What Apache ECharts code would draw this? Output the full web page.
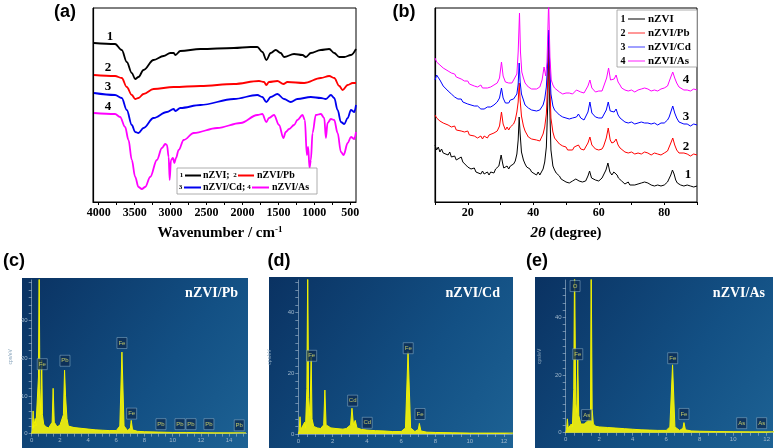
<!DOCTYPE html>
<html><head><meta charset="utf-8">
<script src="https://cdn.jsdelivr.net/npm/echarts@6/dist/echarts.min.js"></script>
<style>html,body{margin:0;padding:0;background:#fff}#c{width:778px;height:448px}</style>
</head><body><div id="c"></div>
<script>
// ---------- (a) FTIR : [wavenumber, transmittance (a.u.)] ----------
const ftir1 = [[4066,159],[3773,158],[3680,152],[3610,140],[3540,129],[3493,123],[3447,125],[3377,132],[3237,142],[3098,146],[3004,149],[2958,149],[2934,147],[2865,151],[2585,153],[2120,154],[1887,155],[1793,155],[1723,150],[1667,142],[1607,149],[1537,152],[1468,149],[1421,145],[1282,148],[1165,147],[1118,145],[1048,149],[909,152],[793,153],[723,149],[653,145],[583,145],[490,147],[420,153]];
const ftir2 = [[4066,127],[3773,126],[3680,124],[3610,115],[3540,107],[3493,103],[3447,104],[3377,108],[3237,113],[2958,115],[2585,116],[2120,118],[1770,121],[1700,120],[1668,117],[1631,120],[1514,121],[1430,118],[1374,120],[1142,119],[909,124],[793,126],[723,124],[653,116],[606,112],[536,117],[466,119],[420,119]];
const ftir3 = [[4066,109],[3773,107],[3680,104],[3610,92],[3540,77],[3493,70],[3447,69],[3377,74],[3237,84],[3051,90],[2958,93],[2934,91],[2865,94],[2585,97],[2120,103],[1793,107],[1724,105],[1668,100],[1607,105],[1514,108],[1421,103],[1328,100],[1235,103],[1048,105],[909,104],[839,103],[769,107],[723,104],[676,92],[630,80],[583,78],[536,84],[490,92],[443,90],[420,97]];
const ftir4 = [[4066,89],[3773,88],[3703,85],[3633,75],[3586,62],[3540,42],[3493,25],[3447,15],[3400,13],[3354,15],[3284,25],[3191,42],[3121,54],[3074,58],[3051,57],[3027,45],[3013,22],[2995,42],[2967,44],[2948,39],[2925,44],[2888,52],[2818,62],[2678,69],[2352,74],[2026,79],[1793,87],[1724,88],[1668,80],[1631,84],[1561,87],[1491,77],[1430,64],[1398,70],[1351,73],[1282,77],[1235,82],[1165,87],[1132,82],[1104,47],[1086,55],[1067,34],[1048,42],[1025,69],[979,87],[909,88],[862,84],[839,64],[816,79],[769,83],[723,82],[676,69],[630,50],[592,47],[536,59],[490,65],[443,63],[420,70]];
const ftirTicks = [4000,3500,3000,2500,2000,1500,1000,500];
const ftirMinor = [4000,3750,3500,3250,3000,2750,2500,2250,2000,1750,1500,1250,1000,750,500];

// ---------- (b) XRD : [2theta, intensity (a.u.)] ----------
const xrd1 = [[10,57],[10.5,52],[11,55],[11.5,50],[12,53],[12.5,49],[13,51],[14,47],[14.5,50],[15,45],[16,46],[16.5,42],[17,44],[18,45],[18.5,40],[19,40],[20,35],[20.5,37],[21,33],[22,34],[22.5,30],[23,31],[24,28],[24.5,31],[25,28],[26,30],[26.5,27],[27,30],[28,29],[28.5,33],[29,31],[29.5,36],[30.2,47],[30.7,38],[31,34],[32,36],[32.5,33],[33,36],[34,38],[34.5,41],[35,48],[35.4,62],[35.7,85],[36,68],[36.4,50],[37,42],[37.5,38],[38,35],[39,33],[39.5,30],[40,31],[41,27],[41.5,30],[42,27],[43,33],[43.5,40],[44,55],[44.4,95],[44.7,152],[45,100],[45.4,52],[46,36],[46.5,32],[47,29],[48,26],[48.5,23],[49,24],[50,20],[50.5,22],[51,19],[52,21],[52.5,19],[53,23],[53.5,24],[54,21],[55,20],[55.5,22],[56,21],[56.7,26],[57.2,31],[57.8,24],[58,25],[59,22],[59.5,23],[60,21],[60.5,23],[61,24],[61.5,26],[62.2,32],[62.8,39],[63.4,30],[64,27],[64.6,30],[65,32],[65.6,27],[66,24],[67,21],[67.5,20],[68,18],[69,20],[69.5,17],[70,19],[71,17],[71.5,19],[72,18],[73,19],[74,20],[74.5,22],[75,19],[76,17],[76.5,18],[77,16],[78,17],[79,16],[79.5,18],[80,17],[81,20],[81.5,22],[82,27],[82.5,32],[83,28],[83.5,22],[84,19],[85,17],[85.5,18],[86,16],[87,17],[87.5,15],[88,16],[89,15],[89.5,17],[90,16]];
const xrd2 = [[10,87],[10.5,84],[11,86],[11.5,81],[12,83],[12.5,79],[13,81],[14,77],[14.5,79],[15,75],[16,76],[16.5,72],[17,74],[18,71],[18.5,73],[19,70],[20,71],[20.5,67],[21,69],[22,66],[22.5,68],[23,64],[24,66],[24.5,63],[25,66],[26,64],[26.5,67],[27,66],[28,69],[28.5,67],[29,71],[29.7,76],[30.3,90],[30.8,78],[31.5,72],[32,75],[32.5,72],[33,75],[34,78],[34.5,82],[35,90],[35.4,100],[35.7,119],[36,102],[36.4,86],[37,76],[37.5,71],[38,68],[38.5,65],[39,67],[39.5,63],[40,65],[41,62],[41.5,64],[42,61],[43,68],[43.5,75],[44,88],[44.4,120],[44.7,162],[45,125],[45.4,84],[46,70],[46.5,64],[47,62],[48,58],[48.5,60],[49,56],[50,55],[50.5,52],[51,54],[52,52],[52.5,55],[53,54],[53.8,57],[54.5,53],[55.5,52],[56,55],[56.7,59],[57.3,65],[57.9,57],[58.5,55],[59,53],[60,52],[60.5,54],[61,53],[61.5,56],[62.3,64],[62.9,74],[63.5,62],[64,59],[64.7,60],[65.3,63],[65.9,57],[66.5,54],[67,52],[68,50],[68.5,52],[69,49],[70,50],[71,48],[71.5,50],[72,49],[73,48],[74,50],[74.5,48],[75,49],[76,47],[77,49],[78,48],[79,47],[79.5,49],[80,49],[81,51],[81.5,53],[82,59],[82.6,64],[83.2,57],[83.8,52],[84.5,49],[85,48],[86,49],[86.5,47],[87,48],[88,46],[89,48],[89.5,46],[90,47]];
const xrd3 = [[10,122],[10.5,127],[11,126],[11.5,122],[12,119],[12.5,116],[13,114],[14,111],[14.5,109],[15,108],[16,105],[16.5,107],[17,103],[18,103],[18.5,100],[19,101],[20,98],[20.5,100],[21,97],[22,96],[22.5,94],[23,96],[24,93],[24.5,95],[25,93],[26,95],[26.5,93],[27,95],[28,97],[28.5,96],[29,100],[29.7,104],[30.3,114],[30.8,104],[31.5,99],[32,101],[32.5,99],[33,102],[33.5,100],[34,103],[34.5,105],[35,108],[35.4,118],[35.7,139],[36,120],[36.4,108],[37,102],[37.5,97],[38,96],[38.5,94],[39,95],[39.5,92],[40,93],[41,91],[41.5,93],[42,92],[43,97],[43.5,103],[44,115],[44.4,140],[44.7,172],[45,140],[45.4,108],[46,96],[46.5,92],[47,90],[48,87],[48.5,88],[49,85],[50,84],[50.5,86],[51,83],[52,84],[52.5,82],[53.2,85],[53.8,88],[54.5,84],[55.5,82],[56,84],[56.7,90],[57.3,100],[57.9,89],[58.5,87],[59,85],[60,84],[60.5,86],[61,84],[61.5,86],[62.3,92],[62.9,100],[63.5,91],[64,89],[64.7,90],[65.3,93],[65.9,87],[66.5,84],[67,82],[68,80],[68.5,82],[69,79],[70,80],[71,78],[71.5,80],[72,79],[73,80],[74,79],[74.5,81],[75,79],[76,78],[77,79],[78,77],[79,79],[79.5,78],[80,79],[81,82],[81.5,85],[82,90],[82.6,96],[83.2,89],[83.8,84],[84.5,80],[85,79],[86,78],[86.5,77],[87,78],[88,76],[89,78],[89.5,76],[90,77]];
const xrd4 = [[10,144],[10.5,140],[11,141],[11.5,137],[12,138],[12.5,134],[13,135],[14,131],[14.5,133],[15,129],[16,128],[16.5,125],[17,126],[18,123],[18.5,124],[19,121],[20,121],[20.5,118],[21,119],[22,116],[22.5,118],[23,115],[24,117],[24.5,114],[25,116],[26,114],[26.5,116],[27,115],[28,117],[28.5,116],[29,119],[29.7,124],[30.3,140],[30.8,126],[31.5,120],[32,122],[32.5,119],[33,121],[33.5,119],[34,122],[34.5,124],[35,128],[35.4,150],[35.8,189],[36.1,150],[36.5,130],[37,124],[37.5,119],[38,117],[38.5,115],[39,116],[39.5,113],[40,114],[41,113],[41.5,115],[42,115],[42.7,122],[43.3,135],[43.8,126],[44.2,140],[44.7,200],[45.1,145],[45.5,122],[46,117],[46.5,114],[47,112],[48,110],[48.5,111],[49,108],[50,109],[50.5,107],[51,109],[52,108],[52.5,110],[53.2,112],[53.8,114],[54.5,110],[55.5,109],[56,111],[56.7,116],[57.3,122],[57.9,114],[58.5,112],[59,110],[60,111],[60.5,109],[61,111],[61.5,113],[62.4,124],[63,134],[63.6,122],[64,120],[64.7,123],[65.3,127],[65.9,120],[66.5,117],[67,114],[68,112],[68.5,113],[69,111],[70,112],[71,110],[71.5,112],[72,112],[73,113],[74,114],[74.5,116],[75,113],[76,111],[77,112],[78,111],[79,113],[79.5,112],[80,114],[81,116],[81.5,118],[82,125],[82.6,130],[83.2,124],[83.8,119],[84.5,115],[85,113],[86,112],[86.5,111],[87,112],[88,111],[89,113],[89.5,111],[90,112]];
const xrdLabels = [20,40,60,80];
const xrdTicks = [10,20,30,40,50,60,70,80,90];

// ---------- (c)(d)(e) EDS : [keV, cps/eV] ----------
const edsPb = [[0,0],[0.05,1],[0.1,6],[0.13,1.5],[0.2,2],[0.25,4],[0.3,2],[0.4,2.5],[0.48,15],[0.53,45],[0.58,12],[0.65,5],[0.71,19.5],[0.76,5],[0.85,2.5],[1.0,1.8],[1.2,1.5],[1.45,3],[1.52,12],[1.6,3],[1.8,1.8],[2.0,2.2],[2.1,2],[2.25,5],[2.33,16.8],[2.4,10],[2.5,4],[2.6,2],[2.8,1.8],[3.0,1.6],[3.5,1.4],[4.0,1.2],[4.5,1.0],[5.0,0.9],[5.5,0.8],[6.0,0.8],[6.25,2],[6.4,21.6],[6.55,2],[6.8,0.8],[7.0,1.5],[7.06,3.5],[7.15,1],[7.5,0.6],[8,0.5],[9,0.4],[10,0.3],[11,0.3],[12,0.25],[13,0.2],[14,0.2],[15.2,0.2]];
const edsCd = [[0,0],[0.05,1],[0.1,5.7],[0.15,1.5],[0.25,2],[0.37,3.9],[0.42,2],[0.5,15],[0.55,55],[0.6,12],[0.68,6],[0.75,25.5],[0.8,5],[0.9,2.5],[1.1,2],[1.3,1.8],[1.48,3],[1.55,14.5],[1.62,3],[1.9,2],[2.2,1.8],[2.6,1.6],[2.8,1.8],[3.05,3],[3.13,8.5],[3.22,3],[3.32,4.5],[3.42,2],[3.7,1.5],[4,1.3],[4.5,1.1],[5,1],[5.5,0.8],[6,0.8],[6.25,2],[6.4,27.2],[6.55,2],[6.8,0.8],[7.0,1.5],[7.06,3.5],[7.15,1],[7.5,0.6],[8,0.5],[9,0.4],[10,0.3],[11,0.3],[12,0.3],[12.6,0.3]];
const edsAs = [[0,0],[0.05,1],[0.1,4.8],[0.15,1.5],[0.25,2],[0.33,3],[0.4,2],[0.48,15],[0.53,60],[0.6,10],[0.66,7],[0.72,25.2],[0.78,6],[0.9,3],[1.0,2.5],[1.1,3],[1.2,2.5],[1.3,4],[1.4,5],[1.48,8],[1.52,60],[1.58,8],[1.65,3],[1.8,2.2],[2,2],[2.5,1.8],[3,1.6],[3.5,1.4],[4,1.2],[4.5,1],[5,0.9],[5.5,0.8],[6,0.8],[6.22,2],[6.38,23.5],[6.52,2],[6.8,0.8],[7.0,1.5],[7.06,3.5],[7.15,1],[7.5,0.6],[8,0.5],[9,0.4],[10,0.35],[11,0.3],[12,0.3],[12.45,0.3]];
// element tags [keV, cps, label]
const tagsPb = [[0.75,18.4,'Fe'],[2.36,19.3,'Pb'],[6.40,24.0,'Fe'],[7.09,5.3,'Fe'],[9.17,2.5,'Pb'],[10.52,2.5,'Pb'],[11.30,2.5,'Pb'],[12.57,2.5,'Pb'],[14.72,2.2,'Pb']];
const tagsCd = [[0.78,25.8,'Fe'],[3.17,11.0,'Cd'],[4.02,3.7,'Cd'],[6.41,28.3,'Fe'],[7.10,6.6,'Fe']];
const tagsAs = [[0.56,50.8,'O'],[0.72,27.2,'Fe'],[1.25,6.1,'As'],[6.39,25.8,'Fe'],[7.06,6.5,'Fe'],[10.51,3.3,'As'],[11.70,3.3,'As']];
const edsXLabels = [0,2,4,6,8,10,12,14];
const edsYLabelsC = [0,10,20,30];
const edsYLabelsDE = [0,20,40];

function steps(a,b,s){const r=[];for(let v=a;v<=b+1e-9;v+=s)r.push(+v.toFixed(2));return r;}

const SERIF = '"Liberation Serif","Times New Roman",serif';
const SANS = '"Liberation Sans",Arial,sans-serif';

const chart = echarts.init(document.getElementById('c'));

const grids = [
  {left:93, top:8, width:263, height:194, show:true, borderColor:'#000', borderWidth:1},
  {left:435, top:8, width:262, height:194, show:true, borderColor:'#000', borderWidth:1},
  {left:31.7, top:280, width:215, height:153.6},
  {left:298.3, top:280, width:214, height:154},
  {left:565.7, top:280, width:207, height:152.7}
].map(g=>Object.assign({outerBoundsMode:'none', containLabel:false}, g));

const plain = v => String(v);
const blackAxisLbl = {fontFamily:SERIF, fontWeight:'bold', fontSize:12, color:'#000', margin:5, formatter:plain};
const edsAxisLine = {show:true, lineStyle:{color:'#aac0d4', width:0.6}};
const edsTick = {show:true, length:3, lineStyle:{color:'#aac0d4', width:0.6}};
const edsLbl = {fontFamily:SANS, fontSize:6, color:'#9fb7cb', margin:4, formatter:plain};

const xAxes = [
  {gridIndex:0, type:'value', min:420, max:4080, inverse:true,
   axisLine:{show:true,lineStyle:{color:'#000',width:1.2}},
   axisTick:{show:true, length:3, customValues:ftirMinor, lineStyle:{color:'#000'}},
   axisLabel:Object.assign({customValues:ftirTicks}, blackAxisLbl),
   splitLine:{show:false}},
  {gridIndex:1, type:'value', min:10, max:90,
   axisLine:{show:true,lineStyle:{color:'#000',width:1.2}},
   axisTick:{show:true, length:3, customValues:xrdTicks, lineStyle:{color:'#000'}},
   axisLabel:Object.assign({customValues:xrdLabels}, blackAxisLbl),
   splitLine:{show:false}},
  {gridIndex:2, type:'value', min:0, max:15.25, axisLine:edsAxisLine,
   axisTick:Object.assign({customValues:steps(0,15,0.5)}, edsTick),
   axisLabel:Object.assign({customValues:edsXLabels}, edsLbl), splitLine:{show:false}},
  {gridIndex:3, type:'value', min:0, max:12.48, axisLine:edsAxisLine,
   axisTick:Object.assign({customValues:steps(0,12,0.5)}, edsTick),
   axisLabel:Object.assign({customValues:edsXLabels.filter(v=>v<=12)}, edsLbl), splitLine:{show:false}},
  {gridIndex:4, type:'value', min:0, max:12.36, axisLine:edsAxisLine,
   axisTick:Object.assign({customValues:steps(0,12,0.5)}, edsTick),
   axisLabel:Object.assign({customValues:edsXLabels.filter(v=>v<=12)}, edsLbl), splitLine:{show:false}}
];
const edsName = {name:'cps/eV', nameLocation:'middle', nameRotate:90, nameTextStyle:{fontFamily:SANS, fontSize:5, color:'#8aa6bd'}};
const yAxes = [
  {gridIndex:0, type:'value', min:0, max:194, axisLine:{show:true,lineStyle:{color:'#000',width:1.2}}, axisTick:{show:false}, axisLabel:{show:false}, splitLine:{show:false}},
  {gridIndex:1, type:'value', min:0, max:194, axisLine:{show:true,lineStyle:{color:'#000',width:1.2}}, axisTick:{show:false}, axisLabel:{show:false}, splitLine:{show:false}},
  Object.assign({gridIndex:2, type:'value', min:0, max:40.7, nameGap:19, axisLine:edsAxisLine,
   axisTick:Object.assign({customValues:steps(0,40,2)}, edsTick),
   axisLabel:Object.assign({customValues:edsYLabelsC}, edsLbl), splitLine:{show:false}}, edsName),
  Object.assign({gridIndex:3, type:'value', min:0, max:50.8, nameGap:26, axisLine:edsAxisLine,
   axisTick:Object.assign({customValues:steps(0,50,2.5)}, edsTick),
   axisLabel:Object.assign({customValues:edsYLabelsDE}, edsLbl), splitLine:{show:false}}, edsName),
  Object.assign({gridIndex:4, type:'value', min:0, max:52.9, nameGap:24, axisLine:edsAxisLine,
   axisTick:Object.assign({customValues:steps(0,50,2.5)}, edsTick),
   axisLabel:Object.assign({customValues:edsYLabelsDE}, edsLbl), splitLine:{show:false}}, edsName)
];

function ftirSeries(data,color){return {type:'line', xAxisIndex:0, yAxisIndex:0, data, showSymbol:false, smooth:0.35, smoothMonotone:'x', lineStyle:{color, width:1.8}, itemStyle:{color}, silent:true, z:3};}
function xrdSeries(data,color){return {type:'line', xAxisIndex:1, yAxisIndex:1, data, showSymbol:false, lineStyle:{color, width:1}, itemStyle:{color}, silent:true, z:3};}
function edsSeries(i,data){return {type:'line', xAxisIndex:i, yAxisIndex:i, data, showSymbol:false, lineStyle:{color:'#f2f200', width:1}, areaStyle:{color:'#eeee10', opacity:0.95}, silent:true, z:3};}
function tagSeries(i,tags){return {type:'scatter', xAxisIndex:i, yAxisIndex:i, data:tags.map(t=>({value:[t[0],t[1]], name:t[2]})), symbol:'rect', symbolSize:[10,11],
  itemStyle:{color:'#0c2c52', borderColor:'#9cc0d4', borderWidth:0.6}, label:{show:true, position:'inside', formatter:p=>p.name, fontFamily:SANS, fontSize:6, color:'#e4e46a'}, silent:true, z:5};}

const series = [
  ftirSeries(ftir1,'#000000'), ftirSeries(ftir2,'#ff0000'), ftirSeries(ftir3,'#0000ee'), ftirSeries(ftir4,'#ff00ff'),
  xrdSeries(xrd1,'#000000'), xrdSeries(xrd2,'#ff0000'), xrdSeries(xrd3,'#0000ff'), xrdSeries(xrd4,'#ff00ff'),
  edsSeries(2,edsPb), edsSeries(3,edsCd), edsSeries(4,edsAs),
  tagSeries(2,tagsPb), tagSeries(3,tagsCd), tagSeries(4,tagsAs)
];

function txt(x,y,text,font,fill,align,extra){return Object.assign({type:'text', x, y, z:50, style:{text, font, fill:fill||'#000', align:align||'center', verticalAlign:'middle'}}, extra||{});}
function ln(x1,y1,x2,y2,stroke,w){return {type:'line', z:50, shape:{x1,y1,x2,y2}, style:{stroke, lineWidth:w}};}
function panelBg(x,y,w,h){return {type:'rect', z:-10, shape:{x,y,width:w,height:h}, style:{fill:new echarts.graphic.LinearGradient(0,0,1,1,[{offset:0,color:'#0a3262'},{offset:0.6,color:'#135084'},{offset:1,color:'#1d6294'}])}};}

const LBL = 'bold 18px '+SANS;
const NUM = 'bold 13px '+SERIF;
const LEG = 'bold 10px '+SERIF;
const LEGS = 'bold 7px '+SERIF;
const LEGB = 'bold 11px '+SERIF;
const graphics = [
  panelBg(22,278,226,170), panelBg(269,277,244,171), panelBg(535,277,238,171),
  txt(65,12,'(a)',LBL), txt(404,12,'(b)',LBL), txt(14,261,'(c)',LBL), txt(279,261,'(d)',LBL), txt(537,261,'(e)',LBL),
  txt(220,233,'',null,'#000','center',{style:{text:'{a|Wavenumber / cm}{s|-1}', align:'center', verticalAlign:'middle', fill:'#000',
    rich:{a:{font:'bold 15px '+SERIF, fill:'#000'}, s:{font:'bold 9px '+SERIF, fill:'#000', verticalAlign:'top'}}}}),
  txt(566,233,'',null,'#000','center',{style:{text:'{i|2θ}{n| (degree)}', align:'center', verticalAlign:'middle', fill:'#000',
    rich:{i:{font:'italic bold 15px '+SERIF, fill:'#000'}, n:{font:'bold 15px '+SERIF, fill:'#000'}}}}),
  // curve numbers (a)
  txt(110,37,'1',NUM), txt(108,68,'2',NUM), txt(108,87,'3',NUM), txt(108,107,'4',NUM),
  // curve numbers (b)
  txt(686,80,'4',NUM), txt(686,117,'3',NUM), txt(686,147,'2',NUM), txt(688,175,'1',NUM),
  // legend (a)
  {type:'rect', z:40, shape:{x:177,y:168,width:140,height:26}, style:{fill:'#fff', stroke:'#9a9a9a', lineWidth:0.8}},
  txt(181.5,175.5,'1',LEGS), ln(185,175.5,201,175.5,'#000',2), txt(203,175.5,'nZVI;',LEG,'#000','left'),
  txt(235,175.5,'2',LEGS), ln(238,175.5,254,175.5,'#ff0000',2), txt(257,175.5,'nZVI/Pb',LEG,'#000','left'),
  txt(180.5,187.5,'3',LEGS), ln(184,187.5,201,187.5,'#0000ee',2), txt(203,187.5,'nZVI/Cd;',LEG,'#000','left'),
  txt(249,187.5,'4',LEGS), ln(252,187.5,269,187.5,'#ff00ff',2), txt(272,187.5,'nZVI/As',LEG,'#000','left'),
  // legend (b)
  {type:'rect', z:40, shape:{x:617,y:10,width:80,height:57}, style:{fill:'#fff', stroke:'#9a9a9a', lineWidth:0.8}},
  txt(623,19,'1',LEG), ln(628,19,645,19,'#000',1), txt(648,19,'nZVI',LEGB,'#000','left'),
  txt(623,33,'2',LEG), ln(628,33,645,33,'#ff3030',1), txt(648,33,'nZVI/Pb',LEGB,'#000','left'),
  txt(623,47,'3',LEG), ln(628,47,645,47,'#4040ff',1), txt(648,47,'nZVI/Cd',LEGB,'#000','left'),
  txt(623,61,'4',LEG), ln(628,61,645,61,'#ff20ff',1), txt(648,61,'nZVI/As',LEGB,'#000','left'),
  // EDS titles
  txt(238,293,'nZVI/Pb','bold 14px '+SERIF,'#fff','right'),
  txt(500,293,'nZVI/Cd','bold 14px '+SERIF,'#fff','right'),
  txt(765,293,'nZVI/As','bold 14px '+SERIF,'#fff','right')
];

chart.setOption({
  backgroundColor:'#fff',
  animation:false,
  grid:grids, xAxis:xAxes, yAxis:yAxes, series,
  graphic:{elements:graphics}
});
</script>
</body></html>
